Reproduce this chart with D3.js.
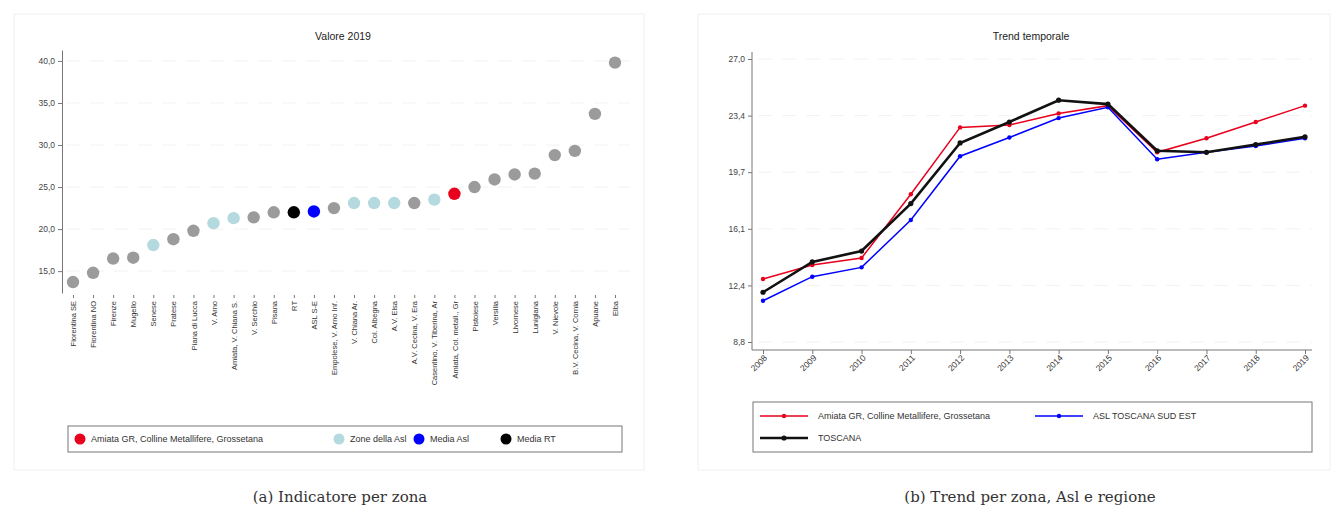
<!DOCTYPE html>
<html><head><meta charset="utf-8">
<script src="https://cdn.jsdelivr.net/npm/d3@7"></script>
<style>
body{margin:0;background:#fff;}
svg{display:block;font-family:"Liberation Sans",Arial,sans-serif;}
.cap{font-family:"DejaVu Serif","Liberation Serif",serif;}
</style></head>
<body>
<svg id="c" width="1336" height="515"></svg>
<script>
// ---- Data: left panel (Valore 2019) ----
const zones = ["Fiorentina SE","Fiorentina NO","Firenze","Mugello","Senese","Pratese","Piana di Lucca","V. Arno",
 "Amiata, V. Chiana S.","V. Serchio","Pisana","RT","ASL S-E","Empolese, V. Arno Inf.","V. Chiana Ar.","Col. Albegna",
 "A.V. Elsa","A.V. Cecina, V. Era","Casentino, V. Tiberina, Ar","Amiata, Col. metall., Gr","Pistoiese","Versilia",
 "Livornese","Lunigiana","V. Nievole","B.V. Cecina, V. Cornia","Apuane","Elba"];
const zoneValues = [13.7,14.8,16.5,16.6,18.1,18.8,19.8,20.7,21.3,21.4,22.0,22.0,22.1,22.5,23.1,23.1,
 23.1,23.1,23.5,24.2,25.0,25.9,26.5,26.6,28.8,29.3,33.7,39.8];
// group: g = other zone, a = zone della Asl, z = selected zone, m = media Asl, r = media RT
const zoneGroup = ["g","g","g","g","a","g","g","a","a","g","g","r","m","g","a","a",
 "a","g","a","z","g","g","g","g","g","g","g","g"];
const leftTicks = [15,20,25,30,35,40];
const leftLegend = ["Amiata GR, Colline Metallifere, Grossetana","Zone della Asl","Media Asl","Media RT"];

// ---- Data: right panel (Trend temporale) ----
const years = [2008,2009,2010,2011,2012,2013,2014,2015,2016,2017,2018,2019];
const zonaSeries = [12.85,13.75,14.2,18.3,22.6,22.75,23.5,24.0,21.0,21.9,22.95,24.0];
const aslSeries = [11.45,13.0,13.6,16.65,20.75,21.95,23.2,23.9,20.55,21.0,21.4,21.9];
const toscanaSeries = [12.0,13.95,14.65,17.7,21.6,22.95,24.35,24.1,21.1,21.0,21.5,22.0];
const rightTicks = [8.8,12.44,16.08,19.72,23.36,27.0];
const rightLegend = ["Amiata GR, Colline Metallifere, Grossetana","ASL TOSCANA SUD EST","TOSCANA"];

const svg = d3.select("#c");
const fmt = d => d.toFixed(1).replace(".", ",");
const groupColor = {g:"#9b9b9b", a:"#b4d9de", z:"#e8001c", m:"#0000ff", r:"#000000"};

// panel frames
[[14,14,630,456],[698,14,632,456]].forEach(([x,y,w,h])=>{
  svg.append("rect").attr("x",x).attr("y",y).attr("width",w).attr("height",h)
    .attr("fill","none").attr("stroke","#f0f0f0");
});

// ===== Left panel =====
const xL = d3.scalePoint().domain(zones).range([73,615]);
const yL = d3.scaleLinear().domain([12.4,41.3]).range([293,50]);
const gL = svg.append("g");
gL.append("text").attr("x",343).attr("y",40).attr("text-anchor","middle")
  .attr("font-size",10.5).attr("fill","#222").text("Valore 2019");
// grid
gL.selectAll(".grid").data(leftTicks).join("line")
  .attr("x1",66).attr("x2",630).attr("y1",d=>yL(d)).attr("y2",d=>yL(d))
  .attr("stroke","#f2f2f2").attr("stroke-dasharray","14,10");
const axL = gL.append("g").attr("transform","translate(62,0)")
  .call(d3.axisLeft(yL).tickValues(leftTicks).tickFormat(fmt).tickSize(4).tickSizeOuter(0));
axL.select(".domain").attr("stroke","#777");
axL.selectAll(".tick line").attr("stroke","#777");
axL.selectAll("text").attr("font-size",8.5).attr("fill","#444").attr("font-family","Liberation Sans, Arial, sans-serif");
// x ticks & labels
const axXL = gL.append("g").attr("transform","translate(0,295)")
  .call(d3.axisBottom(xL).tickSize(3).tickSizeOuter(0));
axXL.select(".domain").remove();
axXL.selectAll(".tick line").attr("stroke","#777");
axXL.selectAll("text").attr("font-size",7.5).attr("fill","#333")
  .attr("font-family","Liberation Sans, Arial, sans-serif")
  .attr("transform","rotate(-90)").attr("text-anchor","end")
  .attr("x",-6).attr("y",0).attr("dy","0.35em");
// dots
gL.selectAll("circle.dot").data(zones).join("circle").attr("class","dot")
  .attr("cx",d=>xL(d)).attr("cy",(d,i)=>yL(zoneValues[i])).attr("r",6.2)
  .attr("fill",(d,i)=>groupColor[zoneGroup[i]]);
// legend
const lgL = gL.append("g");
lgL.append("rect").attr("x",68).attr("y",426).attr("width",554).attr("height",26)
  .attr("fill","#fff").attr("stroke","#777");
const lgLx = [80,339,419,506], lgLc = ["#e8001c","#b4d9de","#0000ff","#000000"];
leftLegend.forEach((t,i)=>{
  lgL.append("circle").attr("cx",lgLx[i]).attr("cy",439).attr("r",5.5).attr("fill",lgLc[i]);
  lgL.append("text").attr("x",lgLx[i]+11).attr("y",442).attr("font-size",9).attr("fill","#333").text(t);
});
svg.append("text").attr("class","cap").attr("x",340).attr("y",502).attr("text-anchor","middle")
  .attr("font-size",15).attr("fill","#333").text("(a) Indicatore per zona");

// ===== Right panel =====
const xR = d3.scalePoint().domain(years).range([763,1305]);
const yR = d3.scaleLinear().domain([8.8,27.0]).range([342,59]);
const gR = svg.append("g");
gR.append("text").attr("x",1031).attr("y",40).attr("text-anchor","middle")
  .attr("font-size",10.5).attr("fill","#222").text("Trend temporale");
gR.selectAll(".grid").data(rightTicks).join("line")
  .attr("x1",758).attr("x2",1312).attr("y1",d=>yR(d)).attr("y2",d=>yR(d))
  .attr("stroke","#f2f2f2").attr("stroke-dasharray","14,10");
// y axis
const axR = gR.append("g").attr("transform","translate(752,0)")
  .call(d3.axisLeft(yR).tickValues(rightTicks).tickFormat(fmt).tickSize(4).tickSizeOuter(0));
axR.select(".domain").remove();
gR.append("line").attr("x1",752).attr("x2",752).attr("y1",52).attr("y2",350).attr("stroke","#777");
axR.selectAll(".tick line").attr("stroke","#777");
axR.selectAll("text").attr("font-size",8.5).attr("fill","#444").attr("font-family","Liberation Sans, Arial, sans-serif");
// x axis
const axXR = gR.append("g").attr("transform","translate(0,350)")
  .call(d3.axisBottom(xR).tickSize(4).tickSizeOuter(0));
axXR.select(".domain").remove();
gR.append("line").attr("x1",752).attr("x2",1312).attr("y1",350).attr("y2",350).attr("stroke","#777");
axXR.selectAll(".tick line").attr("stroke","#777");
axXR.selectAll("text").attr("font-size",8.5).attr("fill","#333")
  .attr("font-family","Liberation Sans, Arial, sans-serif")
  .attr("transform","rotate(-45)").attr("text-anchor","end").attr("x",-3).attr("y",6).attr("dy","0.35em");
// lines
const series = [
  {vals:zonaSeries, color:"#e8001c", w:1.5, r:2.2},
  {vals:aslSeries, color:"#0000ff", w:1.5, r:2.2},
  {vals:toscanaSeries, color:"#111111", w:2.6, r:2.6}
];
const line = d3.line().x((d,i)=>xR(years[i])).y(d=>yR(d));
series.forEach(s=>{
  gR.append("path").datum(s.vals).attr("d",line).attr("fill","none")
    .attr("stroke",s.color).attr("stroke-width",s.w);
  gR.selectAll(null).data(s.vals).join("circle")
    .attr("cx",(d,i)=>xR(years[i])).attr("cy",d=>yR(d)).attr("r",s.r).attr("fill",s.color);
});
// legend
const lgR = gR.append("g");
lgR.append("rect").attr("x",753).attr("y",402).attr("width",559).attr("height",50)
  .attr("fill","#fff").attr("stroke","#777");
const lgRpos = [[760,416],[1035,416],[760,438]];
rightLegend.forEach((t,i)=>{
  const [x,y] = lgRpos[i], s = series[i];
  lgR.append("line").attr("x1",x).attr("x2",x+48).attr("y1",y).attr("y2",y)
    .attr("stroke",s.color).attr("stroke-width",s.w);
  lgR.append("circle").attr("cx",x+24).attr("cy",y).attr("r",s.r).attr("fill",s.color);
  lgR.append("text").attr("x",x+58).attr("y",y+3).attr("font-size",9).attr("fill","#333").text(t);
});
svg.append("text").attr("class","cap").attr("x",1030).attr("y",502).attr("text-anchor","middle")
  .attr("font-size",15).attr("fill","#333").text("(b) Trend per zona, Asl e regione");
</script>
</body></html>
